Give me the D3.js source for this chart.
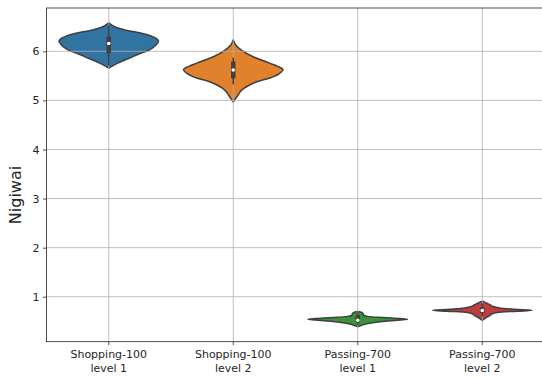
<!DOCTYPE html>
<html>
<head>
<meta charset="utf-8">
<script src="https://cdn.jsdelivr.net/npm/d3@7"></script>
<style>
  html, body { margin: 0; padding: 0; background: #fff; }
  svg { display: block; font-family: "DejaVu Sans", sans-serif; }
</style>
</head>
<body>
<svg id="chart" width="542" height="379"></svg>
<script>
// Category labels (two lines each)
const categories = ["Shopping-100\nlevel 1", "Shopping-100\nlevel 2", "Passing-700\nlevel 1", "Passing-700\nlevel 2"];
const colors = ["#3274a1", "#e1812c", "#3a923a", "#c03d3e"];
const yTicks = [1, 2, 3, 4, 5, 6];

// Kernel density profiles: [value, relative density]
const densityShop1 = [[6.58,0],[6.50,0.12],[6.43,0.35],[6.365,0.68],[6.30,0.88],[6.25,0.97],[6.21,1.0],[6.13,0.95],[6.03,0.82],[5.95,0.62],[5.86,0.41],[5.76,0.18],[5.70,0.07],[5.66,0]];
const densityShop2 = [[6.23,0],[6.13,0.05],[6.02,0.17],[5.89,0.4],[5.76,0.73],[5.69,0.9],[5.63,1.0],[5.55,0.93],[5.48,0.8],[5.35,0.4],[5.21,0.17],[5.07,0.07],[4.97,0]];
const densityPass1 = [[0.70,0],[0.68,0.08],[0.65,0.11],[0.62,0.12],[0.60,0.2],[0.575,0.5],[0.555,0.85],[0.54,1.0],[0.525,0.85],[0.50,0.55],[0.47,0.3],[0.44,0.14],[0.41,0.05],[0.39,0]];
const densityPass2 = [[0.91,0],[0.88,0.07],[0.84,0.15],[0.80,0.22],[0.77,0.35],[0.745,0.65],[0.725,1.0],[0.705,0.7],[0.68,0.3],[0.65,0.2],[0.61,0.14],[0.57,0.07],[0.52,0]];
const densities = [densityShop1, densityShop2, densityPass1, densityPass2];

// Box summaries: [whisker low, q1, median, q3, whisker high]
const boxShop1 = [5.71, 5.96, 6.16, 6.30, 6.53];
const boxShop2 = [5.33, 5.45, 5.62, 5.79, 5.87];
const boxPass1 = [0.43, 0.48, 0.52, 0.62, 0.68];
const boxPass2 = [0.60, 0.67, 0.72, 0.78, 0.86];
const boxes = [boxShop1, boxShop2, boxPass1, boxPass2];

const svg = d3.select("#chart");
const m = { left: 46.5, right: 544.5, top: 8, bottom: 341.7 };

const x = d3.scaleBand().domain(categories).range([m.left, m.right]).padding(0);
const y = d3.scaleLinear().domain([0.084, 6.883]).range([m.bottom, m.top]);
const halfW = x.bandwidth() * 0.4;

const edge = "#3f3f3f";

// Violins
categories.forEach((c, i) => {
  const cx = x(c) + x.bandwidth() / 2;
  const area = d3.area()
    .y(d => y(d[0]))
    .x0(d => cx - d[1] * halfW)
    .x1(d => cx + d[1] * halfW)
    .curve(d3.curveCatmullRom.alpha(0.5));
  svg.append("path")
    .datum(densities[i])
    .attr("d", area)
    .attr("fill", colors[i])
    .attr("stroke", edge)
    .attr("stroke-width", 1.5)
    .attr("stroke-linejoin", "round");
});

// Grid lines
const grid = svg.append("g");
yTicks.forEach(t => {
  grid.append("line").attr("x1", m.left).attr("x2", m.right)
    .attr("y1", y(t)).attr("y2", y(t))
    .attr("stroke", "#b0b0b0").attr("stroke-width", 0.8);
});
categories.forEach(c => {
  const cx = x(c) + x.bandwidth() / 2;
  grid.append("line").attr("x1", cx).attr("x2", cx)
    .attr("y1", m.top).attr("y2", m.bottom)
    .attr("stroke", "#b0b0b0").attr("stroke-width", 0.8);
});

// Inner boxes
categories.forEach((c, i) => {
  const cx = x(c) + x.bandwidth() / 2;
  const b = boxes[i];
  svg.append("line").attr("x1", cx).attr("x2", cx)
    .attr("y1", y(b[0])).attr("y2", y(b[4]))
    .attr("stroke", edge).attr("stroke-width", 1.5);
  svg.append("line").attr("x1", cx).attr("x2", cx)
    .attr("y1", y(b[1])).attr("y2", y(b[3]))
    .attr("stroke", edge).attr("stroke-width", 4.5);
  svg.append("circle").attr("cx", cx).attr("cy", y(b[2])).attr("r", 1.8)
    .attr("fill", "#fff");
});

// Axes
const yAxis = svg.append("g").attr("transform", `translate(${m.left},0)`)
  .call(d3.axisLeft(y).tickValues(yTicks).tickSize(3.5).tickPadding(3.5).tickFormat(d3.format("d")));
yAxis.select(".domain").remove();
yAxis.selectAll("text").attr("font-size", 11).attr("fill", "#262626").attr("font-family", "DejaVu Sans");
yAxis.selectAll("line").attr("stroke", "#262626").attr("stroke-width", 0.8);

const xAxis = svg.append("g").attr("transform", `translate(0,${m.bottom})`)
  .call(d3.axisBottom(x).tickSize(3.5).tickFormat(""));
xAxis.select(".domain").remove();
xAxis.selectAll("line").attr("stroke", "#262626").attr("stroke-width", 0.8);
xAxis.selectAll(".tick").each(function(d) {
  const lines = d.split("\n");
  const t = d3.select(this).append("text")
    .attr("text-anchor", "middle").attr("font-size", 11)
    .attr("fill", "#262626").attr("font-family", "DejaVu Sans");
  lines.forEach((l, k) => {
    t.append("tspan").attr("x", 0).attr("y", 16.6 + k * 14).text(l);
  });
});

// Spines
svg.append("rect").attr("x", m.left).attr("y", m.top)
  .attr("width", m.right - m.left).attr("height", m.bottom - m.top)
  .attr("fill", "none").attr("stroke", "#262626").attr("stroke-width", 0.8);

// Y label
svg.append("text")
  .attr("transform", `translate(21,195) rotate(-90)`)
  .attr("text-anchor", "middle")
  .attr("font-size", 16).attr("fill", "#262626")
  .attr("font-family", "DejaVu Sans")
  .text("Nigiwai");
</script>
</body>
</html>
